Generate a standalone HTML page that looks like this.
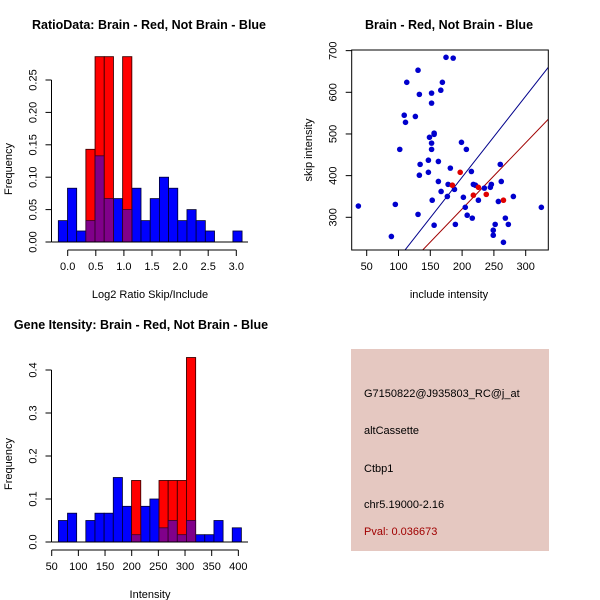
<!DOCTYPE html>
<html><head><meta charset="utf-8"><style>body{margin:0;background:#fff}svg{display:block;font-family:"Liberation Sans",sans-serif}</style></head>
<body>
<svg id="s" width="600" height="600" xmlns="http://www.w3.org/2000/svg">
<rect width="600" height="600" fill="#fff"/>
<g id="g1"></g>
<g id="g2"></g>
<g id="g3"></g>
<g>
<rect x="351" y="349" width="198" height="202" fill="#e5c8c1"/>
<g font-size="11" fill="#000">
<text x="364" y="397">G7150822@J935803_RC@j_at</text>
<text x="364" y="434">altCassette</text>
<text x="364" y="472">Ctbp1</text>
<text x="364" y="508">chr5.19000-2.16</text>
<text x="364" y="535" fill="#a00000">Pval: 0.036673</text>
</g></g>
</svg>
<script>
// Histogram 1 data
const h1Start = -0.167, h1Width = 0.1635;
const h1Blue = [0.033,0.083,0.017,0.033,0.133,0.067,0.067,0.05,0.083,0.033,0.067,0.1,0.083,0.033,0.05,0.033,0.017,0,0,0.017];
const h1Red = [0,0,0,0.143,0.286,0.286,0,0.286,0,0,0,0,0,0,0,0,0,0,0,0];
const h1XTicks = [0,0.5,1,1.5,2,2.5,3];
const h1XLabels = ["0.0","0.5","1.0","1.5","2.0","2.5","3.0"];
const h1YTicks = [0,0.05,0.1,0.15,0.2,0.25];
const h1YLabels = ["0.00","0.05","0.10","0.15","0.20","0.25"];
// Histogram 2 data
const h2Start = 62.5, h2Width = 17.16;
const h2Blue = [0.05,0.067,0,0.05,0.067,0.067,0.15,0.083,0.017,0.083,0.1,0.033,0.05,0.017,0.05,0.017,0.017,0.05,0,0.033];
const h2Red = [0,0,0,0,0,0,0,0,0.143,0,0,0.143,0.143,0.143,0.429,0,0,0,0,0];
const h2XTicks = [50,100,150,200,250,300,350,400];
const h2YTicks = [0,0.1,0.2,0.3,0.4];
const h2YLabels = ["0.0","0.1","0.2","0.3","0.4"];
// Scatter data
const blueX = [36.9,95,88.8,109,111,113,102,126.5,130.7,132.8,134,132.8,130.7,147,147,148.7,152,152,152,152,156,156,153,156,162.7,162.7,167,166.5,169,174.7,186,176.8,178,181.5,188,189.4,199,202,205,206.7,208,214.6,216,217.7,221,225.6,235,244.4,246,252,249,249,265,260,257,261.6,268,272.7,280.6,324.6];
const blueY = [327,331,254,545,528,624,463,542,653,595,427,401,307,408,437,492,478,463,574,598,499,502,341,281,434,386,362,605,624,684,682,350,379,418,367,283,480,348,324,463,305,410,298,379,377,341,370,372,379,283,269,257,240,427,338,386,298,283,350,324];
const redX = [197,184.7,217.7,225.6,238,265];
const redY = [408,377,353,372,355,341];
const lineIntercepts = [7,2.2];
const lineSlopes = [1.946,1.589];
const scXTicks = [50,100,150,200,250,300];
const scYTicks = [300,400,500,600,700];

const NS="http://www.w3.org/2000/svg";
function mk(parent,tag,attrs){const e=document.createElementNS(NS,tag);for(const k in attrs)e.setAttribute(k,attrs[k]);parent.appendChild(e);return e;}

function hist(g,opt){
  const sx=v=>opt.x0+(v-opt.v0)*opt.kx, sy=v=>opt.y0-v*opt.ky;
  for(let i=0;i<opt.blue.length;i++){
    const a=opt.start+i*opt.width,b=a+opt.width;
    const bv=opt.blue[i];
    if(bv>0){const r=mk(g,'rect',{x:sx(a),y:sy(bv),width:sx(b)-sx(a),height:sy(0)-sy(bv),fill:'#0000ff',stroke:'#000030','stroke-width':0.8});
      
      }
  }
  for(let i=0;i<opt.red.length;i++){
    const a=opt.start+i*opt.width,b=a+opt.width;
    const bv=opt.blue[i], rv=opt.red[i];
    if(rv>0){const r=mk(g,'rect',{x:sx(a),y:sy(rv),width:sx(b)-sx(a),height:sy(0)-sy(rv),fill:'#ff0000',stroke:'#400000','stroke-width':0.9});
      
      
      const m=Math.min(bv,rv);
      if(m>0){const p=mk(g,'rect',{x:sx(a),y:sy(m),width:sx(b)-sx(a),height:sy(0)-sy(m),fill:'#80008a',stroke:'#300030','stroke-width':0.8});
        
        }
    }
  }
  mk(g,'line',{x1:opt.bx1,x2:opt.bx2,y1:sy(0),y2:sy(0),stroke:'#000'});
  const xt=opt.xticks, xa=opt.y0+8;
  mk(g,'line',{x1:sx(xt[0]),x2:sx(xt[xt.length-1]),y1:xa,y2:xa,stroke:'#000'});
  xt.forEach((v,i)=>{mk(g,'line',{x1:sx(v),x2:sx(v),y1:xa,y2:xa+6,stroke:'#000'});
    const t=mk(g,'text',{x:sx(v),y:xa+20,'text-anchor':'middle','font-size':11});t.textContent=opt.xlabels[i];
    
    });
  const yt=opt.yticks, ax=opt.yax;
  mk(g,'line',{x1:ax,x2:ax,y1:sy(yt[0]),y2:sy(yt[yt.length-1]),stroke:'#000'});
  yt.forEach((v,i)=>{mk(g,'line',{x1:ax,x2:ax-6,y1:sy(v),y2:sy(v),stroke:'#000'});
    const t=mk(g,'text',{x:ax-15,y:sy(v),'text-anchor':'middle','font-size':11,transform:`rotate(-90 ${ax-15} ${sy(v)})`});t.textContent=opt.ylabels[i];
    
    });
  let t=mk(g,'text',{x:12,y:(opt.y0+sy(yt[yt.length-1]))/2+8,'text-anchor':'middle','font-size':11,transform:`rotate(-90 12 ${(opt.y0+sy(yt[yt.length-1]))/2+8})`});t.textContent='Frequency';
  
  
  t=mk(g,'text',{x:opt.xtx,y:opt.y0+56,'text-anchor':'middle','font-size':11});t.textContent=opt.xtitle;
  
  
  t=mk(g,'text',{x:opt.tx,y:opt.ty,'text-anchor':'middle','font-size':12.5,'font-weight':'bold'});t.textContent=opt.title;
  
  
}
hist(document.getElementById('g1'),{x0:67.7,v0:0,kx:56.2,y0:242,ky:648,start:h1Start,width:h1Width,blue:h1Blue,red:h1Red,
  bx1:51.7,bx2:248,xticks:h1XTicks,xlabels:h1XLabels,yticks:h1YTicks,ylabels:h1YLabels,yax:51.5,
  xtitle:'Log2 Ratio Skip/Include',xtx:150,title:'RatioData: Brain - Red, Not Brain - Blue',tx:149,ty:29});
hist(document.getElementById('g3'),{x0:51.7,v0:50,kx:0.5333,y0:542,ky:430,start:h2Start,width:h2Width,blue:h2Blue,red:h2Red,
  bx1:51.7,bx2:248,xticks:h2XTicks,xlabels:h2XTicks.map(String),yticks:h2YTicks,ylabels:h2YLabels,yax:51.5,
  xtitle:'Intensity',xtx:150,title:'Gene Itensity: Brain - Red, Not Brain - Blue',tx:141,ty:329});

(function(){
  const g=document.getElementById('g2');
  const L=351.7,R=548.3,T=50,B=250;
  const sx=v=>366.7+(v-50)*0.636, sy=v=>217.3-(v-300)*0.41667;
  const xmin=50+(L-366.7)/0.636, xmax=50+(R-366.7)/0.636;
  const defs=mk(g,'clipPath',{id:'cp'});mk(defs,'rect',{x:L,y:T,width:R-L,height:B-T});
  const cols=['#00008b','#a00000'];
  lineIntercepts.forEach((a,i)=>{const b=lineSlopes[i];
    const l=mk(g,'line',{x1:sx(xmin),y1:sy(a+b*xmin),x2:sx(xmax),y2:sy(a+b*xmax),stroke:cols[i],'stroke-width':1,'clip-path':'url(#cp)'});
    
    });
  blueX.forEach((x,i)=>{const c=mk(g,'circle',{cx:sx(x),cy:sy(blueY[i]),r:2.8,fill:'#0000cd'});
    
    });
  redX.forEach((x,i)=>{const c=mk(g,'circle',{cx:sx(x),cy:sy(redY[i]),r:2.8,fill:'#e00000'});
    
    });
  const box=mk(g,'rect',{x:L,y:T,width:R-L,height:B-T,fill:'none',stroke:'#000'});
  
  
  scXTicks.forEach(v=>{mk(g,'line',{x1:sx(v),x2:sx(v),y1:B,y2:B+6,stroke:'#000'});
    const t=mk(g,'text',{x:sx(v),y:B+20,'text-anchor':'middle','font-size':11});t.textContent=v;
    
    });
  scYTicks.forEach(v=>{mk(g,'line',{x1:L,x2:L-6,y1:sy(v),y2:sy(v),stroke:'#000'});
    const t=mk(g,'text',{x:L-15,y:sy(v),'text-anchor':'middle','font-size':11,transform:`rotate(-90 ${L-15} ${sy(v)})`});t.textContent=v;
    
    });
  let t=mk(g,'text',{x:312,y:150,'text-anchor':'middle','font-size':11,transform:'rotate(-90 312 150)'});t.textContent='skip intensity';
  
  
  t=mk(g,'text',{x:449,y:298,'text-anchor':'middle','font-size':11});t.textContent='include intensity';
  
  
  t=mk(g,'text',{x:449,y:29,'text-anchor':'middle','font-size':12.5,'font-weight':'bold'});t.textContent='Brain - Red, Not Brain - Blue';
  
  
})();
</script>
</body></html>
